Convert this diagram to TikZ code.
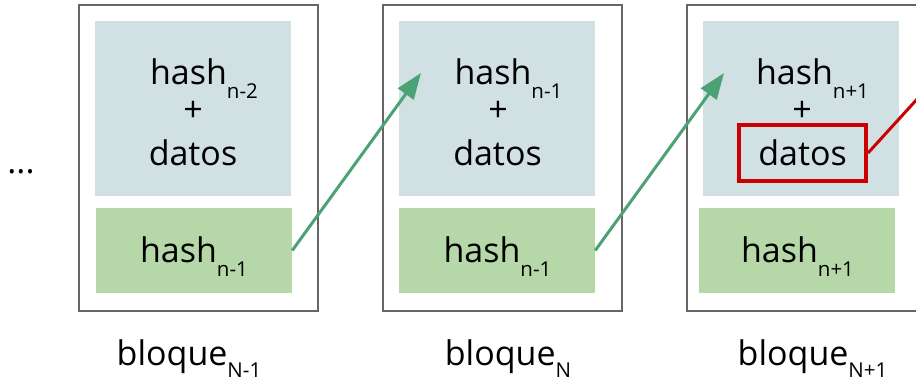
\documentclass[tikz,border=0pt]{standalone}
\usepackage{fontspec}
\setmainfont{Open Sans}
\usepackage{xcolor}
\usetikzlibrary{arrows.meta}
\definecolor{datafill}{HTML}{D0E0E3}
\definecolor{hashfill}{HTML}{B6D7A8}
\definecolor{linkgreen}{HTML}{4CA274}
\definecolor{markred}{HTML}{CC0000}
\newcommand{\low}[2][14pt]{\raisebox{-#1}{\fontsize{20.5}{20}\selectfont #2}}

\begin{document}
\begin{tikzpicture}[x=1pt,y=-1pt,
    outerbox/.style={draw=black!60,line width=2pt,minimum width=239pt,minimum height=306pt},
    databox/.style={fill=datafill,minimum width=196pt,minimum height=175pt},
    hashbox/.style={fill=hashfill,minimum width=196pt,minimum height=85pt},
    txt/.style={font=\fontsize{34}{40}\selectfont,inner sep=0pt,anchor=base},
    link/.style={linkgreen,line width=3pt,-{Triangle[length=26pt,width=19pt]}}]
      \clip (0,0) rectangle (916,381);
      \node [txt] (D) at (21,173) {...};
      \node [outerbox] (B1) at (198.5,158) {};
      \node [databox] (T1) at (193,108.5) {};
      \node [hashbox] (H1) at (194,250.5) {};
      \node [txt] (P1) at (204,84) {hash\low{n-2}};
      \node [txt] (S1) at (193,121) {+};
      \node [txt] (X1) at (193,165) {datos};
      \node [txt] (K1) at (194,262) {hash\low{n-1}};
      \node [txt] (L1) at (189,365) {bloque\low[12pt]{N-1}};
      \node [outerbox] (B2) at (502.5,158) {};
      \node [databox] (T2) at (497,108.5) {};
      \node [hashbox] (H2) at (497,250.5) {};
      \node [txt] (P2) at (508.5,84) {hash\low{n-1}};
      \node [txt] (S2) at (498,121) {+};
      \node [txt] (X2) at (497.5,165) {datos};
      \node [txt] (K2) at (497.5,262) {hash\low{n-1}};
      \node [txt] (L2) at (508,365) {bloque\low[12pt]{N}};
      \node [outerbox] (B3) at (806.5,158) {};
      \node [databox] (T3) at (801,108.5) {};
      \node [hashbox] (H3) at (797,250.5) {};
      \node [txt] (P3) at (812.5,84) {hash\low{n+1}};
      \node [txt] (S3) at (802,121) {+};
      \node [txt,anchor=center,draw=markred,line width=4pt,minimum width=127pt,minimum height=56pt] (X3) at (802.5,153) {datos};
      \node [txt] (K3) at (797.5,262) {hash\low{n+1}};
      \node [txt] (L3) at (812.5,365) {bloque\low[12pt]{N+1}};
      \coordinate (E2) at (421,73);
      \coordinate (E3) at (724,73);
      \coordinate (R) at (940,74);
      \draw [link] (H1.east) to (E2);
      \draw [link] (H2.east) to (E3);
      \draw [markred,line width=3pt] (X3.east) to (R);
    \end{tikzpicture}
\end{document}
